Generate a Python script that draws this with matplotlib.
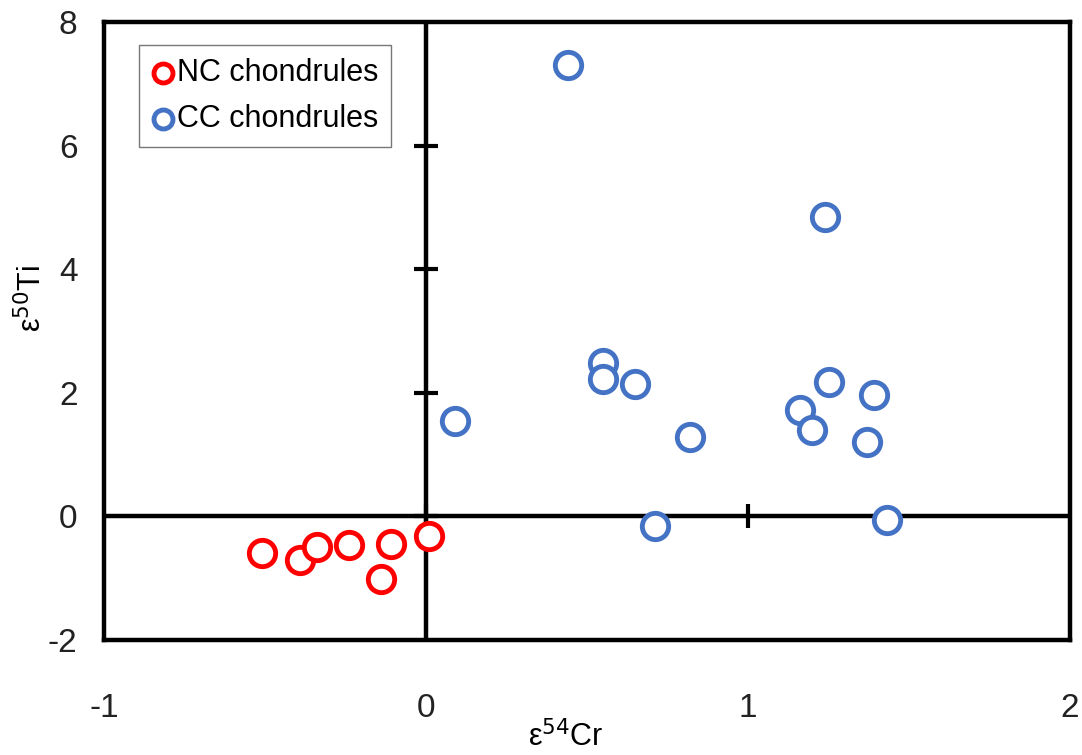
import numpy as np
import matplotlib
matplotlib.use('Agg')
import matplotlib.pyplot as plt

plt.rcParams['font.family'] = ['Liberation Sans', 'DejaVu Sans']
plt.rcParams['axes.unicode_minus'] = False

# NC chondrules (red)
nc_cr = [-0.51, -0.39, -0.34, -0.24, -0.11, -0.14, 0.01]
nc_ti = [-0.60, -0.70, -0.50, -0.47, -0.45, -1.02, -0.31]

# CC chondrules (blue)
cc_cr = [0.44, 1.24, 0.55, 0.55, 0.65, 0.09, 0.82, 1.16, 1.25, 1.39, 1.20, 1.37, 0.71, 1.43]
cc_ti = [7.30, 4.84, 2.49, 2.22, 2.15, 1.55, 1.29, 1.72, 2.18, 1.97, 1.39, 1.20, -0.16, -0.06]

x_ticks = [-1, 0, 1, 2]
y_ticks = [-2, 0, 2, 4, 6, 8]

fig = plt.figure(figsize=(10.82, 7.55), dpi=100)
ax = fig.add_axes([0.0961, 0.1523, 0.8929, 0.8186])

ax.set_xlim(-1, 2)
ax.set_ylim(-2, 8)

# zero lines with cross ticks (inner ticks only, frame covers the ends)
ax.axhline(0, color='black', lw=3.2, zorder=1)
ax.axvline(0, color='black', lw=3.2, zorder=1)
ax.plot(np.zeros(len(y_ticks) - 2), y_ticks[1:-1], ls='none', marker='_', ms=17, mew=3,
        color='black', zorder=1)
ax.plot(x_ticks[1:-1], np.zeros(len(x_ticks) - 2), ls='none', marker='|', ms=17, mew=3,
        color='black', zorder=1)

ax.scatter(nc_cr, nc_ti, s=360, facecolors='white', edgecolors='#FF0000',
           linewidths=3.5, zorder=3, label='NC chondrules')
ax.scatter(cc_cr, cc_ti, s=360, facecolors='white', edgecolors='#4472C4',
           linewidths=3.5, zorder=3, label='CC chondrules')

for s in ax.spines.values():
    s.set_linewidth(3.2)
    s.set_color('black')

ax.set_xticks(x_ticks)
ax.set_yticks(y_ticks)
ax.tick_params(length=0, labelsize=24, colors='#222222')
ax.tick_params(axis='x', pad=38)
ax.tick_params(axis='y', pad=19)

fig.text(0.523, 0.002, 'ε$^{54}$Cr', fontsize=22, ha='center', va='bottom')
fig.text(0.030, 0.605, 'ε$^{50}$Ti', fontsize=22, ha='center', va='center', rotation=90)

leg = ax.legend(loc='upper left', bbox_to_anchor=(0.036, 0.962), fontsize=22,
                frameon=True, fancybox=False, edgecolor='#555555',
                handletextpad=0.05, borderpad=0.4, labelspacing=0.55,
                handlelength=0.8, borderaxespad=0.0, markerscale=0.72)
leg.get_frame().set_linewidth(1)

plt.savefig('out.png', dpi=100)
